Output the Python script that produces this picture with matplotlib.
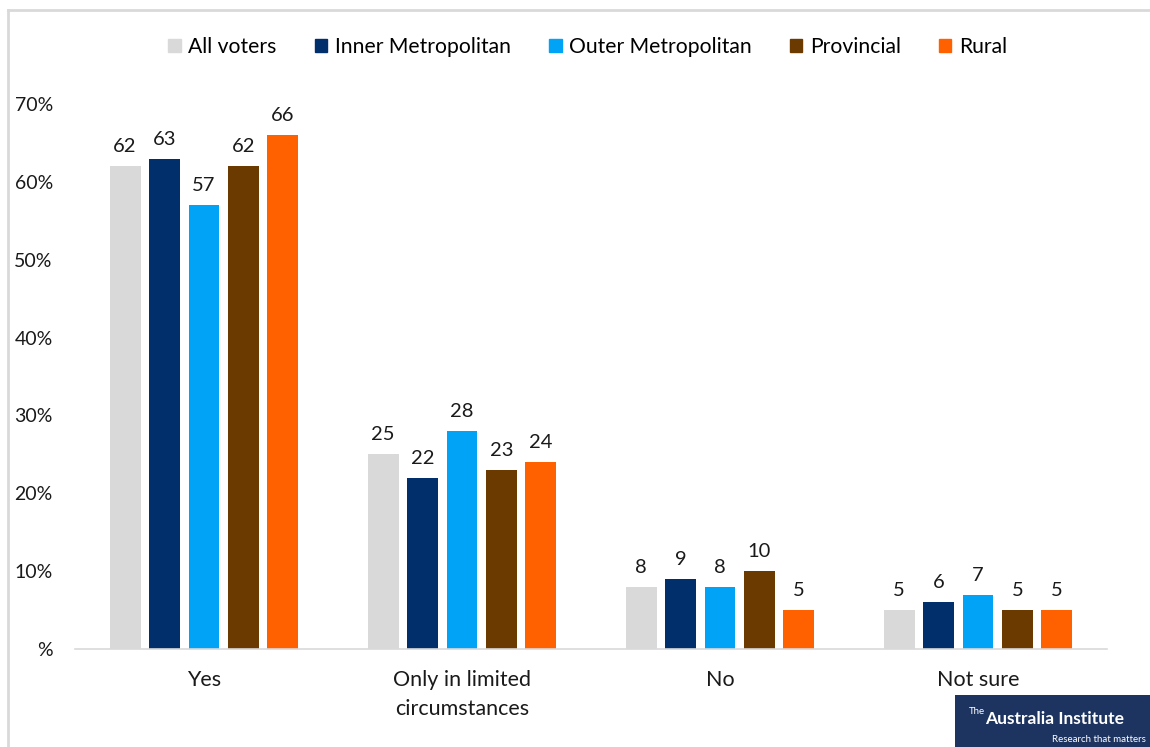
import matplotlib
matplotlib.use("Agg")
import matplotlib.pyplot as plt
from matplotlib.patches import Rectangle
from matplotlib.lines import Line2D
import numpy as np

categories = ["Yes", "Only in limited\ncircumstances", "No", "Not sure"]
series_names = ["All voters", "Inner Metropolitan", "Outer Metropolitan", "Provincial", "Rural"]
all_voters = [62, 25, 8, 5]
inner_metro = [63, 22, 9, 6]
outer_metro = [57, 28, 8, 7]
provincial = [62, 23, 10, 5]
rural = [66, 24, 5, 5]
y_ticks = [0, 10, 20, 30, 40, 50, 60, 70]
y_tick_labels = ["%", "10%", "20%", "30%", "40%", "50%", "60%", "70%"]

series_values = [all_voters, inner_metro, outer_metro, provincial, rural]
colors = ["#d9d9d9", "#002f6c", "#00a3f5", "#6b3a00", "#ff6100"]

plt.rcParams["font.family"] = ["Lato", "DejaVu Sans"]

fig = plt.figure(figsize=(11.5, 7.47), dpi=100)
ax = fig.add_axes([75 / 1150, 1 - 649 / 747, (1107 - 75) / 1150, (649 - 104) / 747])

x = np.arange(len(categories))
width = 0.12
pitch = 0.153
offsets = (np.arange(len(series_names)) - 2) * pitch

for vals, name, col, off in zip(series_values, series_names, colors, offsets):
    bars = ax.bar(x + off, vals, width, color=col, label=name, zorder=2)
    for b, v in zip(bars, vals):
        ax.text(b.get_x() + b.get_width() / 2, v + 1.4, f"{v}", ha="center",
                va="bottom", fontsize=14.5, color="#1a1a1a")

ax.set_xlim(-0.5, 3.5)
ax.set_ylim(0, 70)
ax.set_yticks(y_ticks)
ax.set_yticklabels(y_tick_labels, fontsize=14, color="#1a1a1a")
ax.set_xticks(x)
ax.set_xticklabels(categories, fontsize=15.5, color="#1a1a1a", linespacing=1.55)
ax.tick_params(axis="both", length=0)
ax.tick_params(axis="y", pad=16)
ax.tick_params(axis="x", pad=15)
for s in ["top", "right", "left"]:
    ax.spines[s].set_visible(False)
ax.spines["bottom"].set_color("#d9d9d9")
ax.spines["bottom"].set_linewidth(1.2)

handles = [Rectangle((0, 0), 1, 1, color=c) for c in colors]
fig.legend(handles, series_names, loc="center", bbox_to_anchor=(0.511, 1 - 47 / 747),
           ncol=5, frameon=False, fontsize=15.2, handlelength=0.6, handleheight=0.6,
           handletextpad=0.35, columnspacing=1.8)

# outer chart frame (left and top edges)
fig.add_artist(Line2D([8 / 1150, 8 / 1150], [0, 1 - 10 / 747], transform=fig.transFigure,
                      color="#d9d9d9", lw=2))
fig.add_artist(Line2D([8 / 1150, 1], [1 - 10 / 747, 1 - 10 / 747], transform=fig.transFigure,
                      color="#d9d9d9", lw=2))

# institute badge in the lower right corner
fig.add_artist(Rectangle((955 / 1150, 0), 195 / 1150, 52 / 747, transform=fig.transFigure,
                         facecolor="#1d3461", edgecolor="none"))
fig.text(985 / 1150, 1 - 712 / 747, "The", ha="right", va="center",
         fontsize=7, color="white")
fig.text(985 / 1150, 1 - 719 / 747, "Australia Institute", ha="left", va="center",
         fontsize=12.5, color="white", fontweight="bold")
fig.text(1146 / 1150, 1 - 740 / 747, "Research that matters", ha="right", va="center",
         fontsize=7, color="white")

fig.savefig("out.png", dpi=100, facecolor="white")
